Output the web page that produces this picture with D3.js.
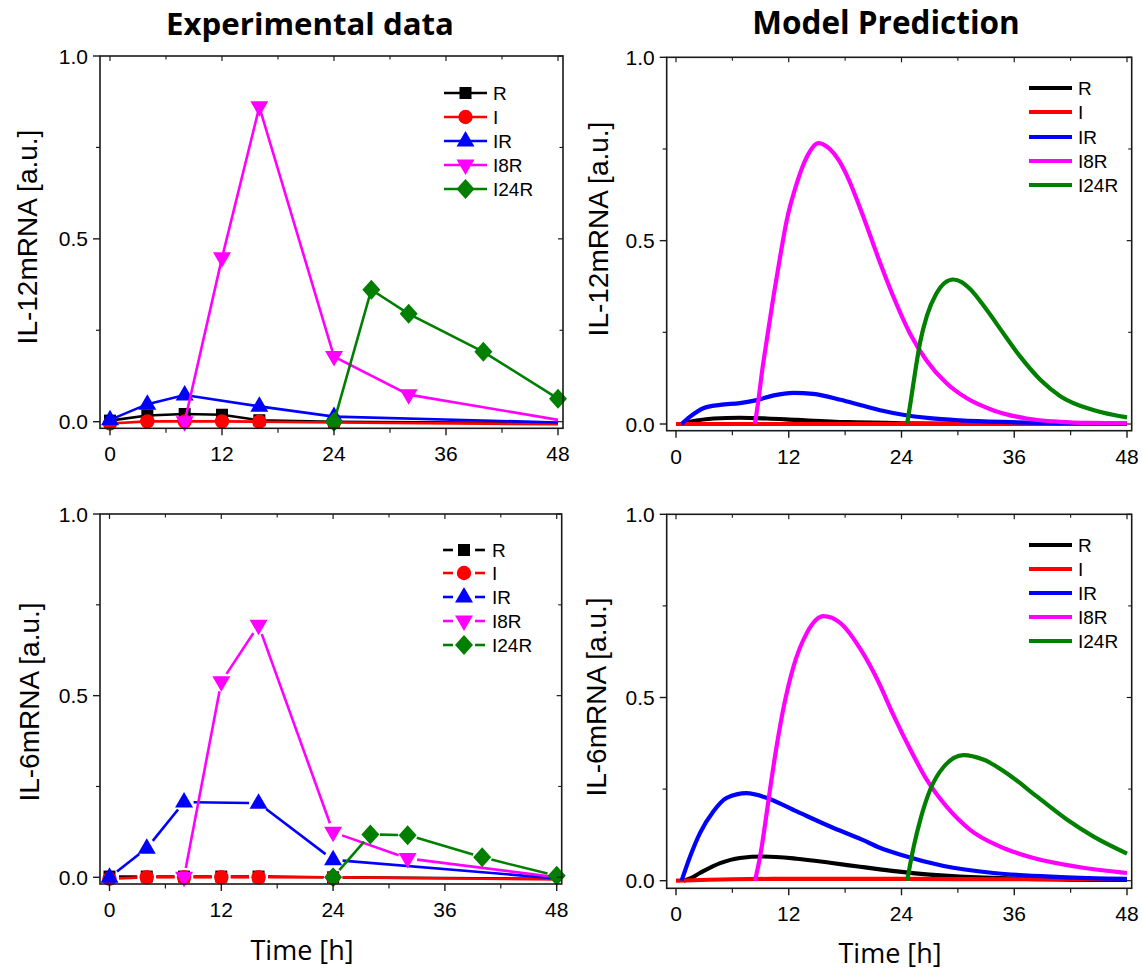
<!DOCTYPE html>
<html><head><meta charset="utf-8">
<script src="https://cdn.jsdelivr.net/npm/d3@7"></script>
<style>body{margin:0;background:#fff}svg{display:block}</style>
</head><body>
<svg id="c" width="1142" height="972"></svg>
<script>
// ---------- DATA ----------
const seriesNames = ["R", "I", "IR", "I8R", "I24R"];
const xTicks = [0, 12, 24, 36, 48];
const xMinorTicks = [6, 18, 30, 42];
const yTicks = [0, 0.5, 1.0];
const yMinorTicks = [0.25, 0.75];
const panelTitles = ["Experimental data", "Model Prediction"];
const yLabels = ["IL-12mRNA [a.u.]", "IL-6mRNA [a.u.]"];
const xLabel = "Time [h]";

// Experimental IL-12 (time h, value)
const il12ExpR   = [[0,0.003],[4,0.017],[8,0.021],[12,0.019],[16,0.004],[24,0.0]];
const il12ExpI   = [[0,-0.005],[4,0.001],[8,0.001],[12,0.001],[16,0.0],[24,-0.002]];
const il12ExpIR  = [[0,0.005],[4,0.048],[8,0.073],[16,0.042],[24,0.014]];
const il12ExpI8R = [[8,0.0],[12,0.448],[16,0.861],[24,0.178],[32,0.074]];
const il12ExpI24R= [[24,0.0],[28,0.361],[32,0.295],[40,0.191],[48,0.063]];
const il12ExpEnd48 = [-0.004, -0.007, -0.002, 0.005, null]; // line end at 48 h (no symbol)

// Experimental IL-6
const il6ExpR   = [[0,0.002],[4,0.002],[8,0.002],[12,0.002],[16,0.002],[24,0.0]];
const il6ExpI   = [[0,-0.004],[4,0.0],[8,0.0],[12,0.0],[16,0.0],[24,0.0]];
const il6ExpIR  = [[0,0.0],[4,0.08],[8,0.207],[16,0.204],[24,0.048]];
const il6ExpI8R = [[8,0.0],[12,0.538],[16,0.694],[24,0.124],[32,0.052]];
const il6ExpI24R= [[24,0.0],[28,0.118],[32,0.116],[40,0.055],[48,0.004]];
const il6ExpEnd48 = [-0.004, -0.006, -0.003, 0.0, null];

// Model IL-12
const il12ModR  = [[0.5,0],[1.5,0.006],[4,0.015],[6.8,0.017],[9.7,0.015],[12.9,0.011],[18.2,0.005],[24,0.002],[36,0.0],[48,0.0]];
const il12ModI  = [[0,0.0],[12,0.0],[24,0.0],[36,0.0],[48,0.0]];
const il12ModIR = [[0.6,0],[1.5,0.02],[2.9,0.043],[4.7,0.052],[6.8,0.057],[8.6,0.065],[10.4,0.078],[12.5,0.085],[14.6,0.082],[17.5,0.066],[19.6,0.052],[22,0.036],[24,0.026],[27,0.016],[30.2,0.01],[35.6,0.005],[42,0.002],[48,0.001]];
const il12ModI8R= [[8.4,0],[8.8,0.07],[9.13,0.138],[9.66,0.229],[10.37,0.347],[11.08,0.456],[11.79,0.556],[12.85,0.656],[13.92,0.728],[15.16,0.766],[16.4,0.749],[17.3,0.72],[18.18,0.678],[19.8,0.575],[21.5,0.455],[23.14,0.347],[24.9,0.247],[26.7,0.172],[28.8,0.111],[30.96,0.07],[33.8,0.037],[37.3,0.015],[40.9,0.006],[44,0.003],[48,0.002]];
const il12ModI24R=[[24.6,0],[25.0,0.065],[25.5,0.15],[26.0,0.225],[26.7,0.295],[27.7,0.355],[28.6,0.385],[29.5,0.394],[30.4,0.387],[31.3,0.368],[33.1,0.31],[34.85,0.247],[36.6,0.185],[38.8,0.12],[40.9,0.076],[44.4,0.038],[48,0.018]];

// Model IL-6
const il6ModR  = [[0.8,0],[1.5,0.006],[2.55,0.021],[4.7,0.048],[6.8,0.062],[9.3,0.066],[12.85,0.06],[16.4,0.049],[19.6,0.038],[21.7,0.031],[24,0.024],[30.2,0.011],[37.3,0.005],[48,0.002]];
const il6ModI  = [[0,0.0],[6,0.004],[12,0.005],[24,0.005],[36,0.004],[48,0.004]];
const il6ModIR = [[0.6,0],[1.5,0.066],[2.55,0.13],[3.97,0.189],[5.4,0.226],[7.5,0.239],[9.66,0.226],[12.85,0.189],[16.4,0.148],[19.8,0.112],[21.7,0.09],[24,0.07],[28.5,0.04],[33.8,0.021],[40.9,0.01],[48,0.005]];
const il6ModI8R= [[8.4,0],[8.95,0.066],[9.5,0.157],[10.0,0.248],[10.7,0.365],[11.4,0.466],[12.5,0.584],[13.9,0.675],[15.7,0.722],[17.5,0.703],[19.8,0.625],[21.5,0.545],[23.14,0.452],[24.9,0.36],[26.7,0.275],[28.8,0.202],[31.3,0.139],[34.5,0.093],[38.05,0.062],[42.7,0.038],[48,0.021]];
const il6ModI24R=[[24.6,0],[25.3,0.093],[26,0.166],[27.05,0.248],[28.5,0.311],[30.6,0.343],[32.7,0.331],[35.6,0.286],[38.4,0.23],[41.6,0.167],[44.4,0.121],[48,0.074]];

// ---------- STYLE / LAYOUT ----------
const colors = ["#000000", "#ff0000", "#0000ff", "#ff00ff", "#007f00"];
const shapes = ["square", "circle", "up", "down", "diamond"];

const panels = [
  {frame:[100,56,563,428.3], x0:110, x48:558, y0:421.7, y1:56, kind:"exp", gap:false,
   data:[il12ExpR,il12ExpI,il12ExpIR,il12ExpI8R,il12ExpI24R], end48:il12ExpEnd48,
   legend:{x1:444,x2:487,tx:493,y:[93,117,141,165,189]}, ylab:{x:28,y:237,t:yLabels[0]}},
  {frame:[666.7,57.3,1131.7,430.7], x0:676, x48:1127, y0:424, y1:57.3, kind:"mod",
   data:[il12ModR,il12ModI,il12ModIR,il12ModI8R,il12ModI24R],
   legend:{x1:1029,x2:1072,tx:1078,y:[88,112,137,161,185]}, ylab:{x:599,y:229,t:yLabels[0]}},
  {frame:[100,514,561.7,884], x0:109.5, x48:556.7, y0:877.3, y1:514, kind:"exp", gap:true,
   data:[il6ExpR,il6ExpI,il6ExpIR,il6ExpI8R,il6ExpI24R], end48:il6ExpEnd48,
   legend:{x1:443,x2:485,tx:492,y:[550,573,597,621,645]}, ylab:{x:30,y:702,t:yLabels[1]}},
  {frame:[666.7,514.3,1131.7,888.3], x0:676, x48:1127, y0:880.7, y1:514.3, kind:"mod",
   data:[il6ModR,il6ModI,il6ModIR,il6ModI8R,il6ModI24R],
   legend:{x1:1029,x2:1072,tx:1078,y:[545,569,593,617,641]}, ylab:{x:597,y:697,t:yLabels[1]}}
];

const svg = d3.select("#c");
const AX = "#1a1a1a";
const tickFont = "Liberation Sans, Arial, sans-serif";

function markerPath(shape) {
  switch (shape) {
    case "square": return "M-6,-6H6V6H-6Z";
    case "circle": return d3.symbol(d3.symbolCircle, Math.PI*7.2*7.2)();
    case "up": return "M0,-10L9,5.5L-9,5.5Z";
    case "down": return "M0,10L9,-5.5L-9,-5.5Z";
    case "diamond": return "M0,-10L9,0L0,10L-9,0Z";
  }
}

panels.forEach(p => {
  const [fl, ft, fr, fb] = p.frame;
  const x = d3.scaleLinear().domain([0, 48]).range([p.x0, p.x48]);
  const y = d3.scaleLinear().domain([0, 1]).range([p.y0, p.y1]);
  const g = svg.append("g");

  // series
  const lw = p.kind === "exp" ? 2.6 : 4.2;
  p.data.forEach((ser, i) => {
    const col = colors[i];
    const pts = ser.map(d => [x(d[0]), y(d[1])]);
    if (p.kind === "mod") {
      g.append("path").attr("d", d3.line().curve(d3.curveMonotoneX)(pts))
        .attr("fill", "none").attr("stroke", col).attr("stroke-width", lw)
        .attr("stroke-linejoin", "round");
    } else {
      const linePts = pts.map(q => ({p:q, m:true}));
      if (p.end48[i] !== null) linePts.push({p:[x(48), y(p.end48[i])], m:false});
      if (!p.gap) {
        g.append("path").attr("d", d3.line()(linePts.map(o => o.p)))
          .attr("fill", "none").attr("stroke", col).attr("stroke-width", lw);
      } else {
        const G = 9.5;
        for (let k = 0; k < linePts.length - 1; k++) {
          const a = linePts[k], b = linePts[k+1];
          const dx = b.p[0]-a.p[0], dy = b.p[1]-a.p[1];
          const L = Math.hypot(dx, dy);
          const s = a.m ? G : 0, e = b.m ? G : 0;
          if (L <= s + e + 1) continue;
          const ux = dx/L, uy = dy/L;
          g.append("line")
            .attr("x1", a.p[0]+ux*s).attr("y1", a.p[1]+uy*s)
            .attr("x2", b.p[0]-ux*e).attr("y2", b.p[1]-uy*e)
            .attr("stroke", col).attr("stroke-width", lw);
        }
      }
      g.selectAll(null).data(ser).enter().append("path")
        .attr("d", markerPath(shapes[i]))
        .attr("transform", d => `translate(${x(d[0])},${y(d[1])})`)
        .attr("fill", col);
    }
  });

  // frame
  g.append("rect").attr("x", fl).attr("y", ft).attr("width", fr-fl).attr("height", fb-ft)
    .attr("fill", "none").attr("stroke", AX).attr("stroke-width", 1.6);

  // ticks
  xTicks.forEach(t => {
    g.append("line").attr("x1", x(t)).attr("x2", x(t)).attr("y1", fb).attr("y2", fb+7).attr("stroke", AX).attr("stroke-width", 1.4);
    g.append("line").attr("x1", x(t)).attr("x2", x(t)).attr("y1", ft).attr("y2", ft+5).attr("stroke", AX).attr("stroke-width", 1.2);
    g.append("text").attr("x", x(t)).attr("y", fb+33).attr("text-anchor", "middle")
      .attr("font-family", tickFont).attr("font-size", 21).attr("fill", "#000").text(t);
  });
  xMinorTicks.forEach(t => {
    g.append("line").attr("x1", x(t)).attr("x2", x(t)).attr("y1", fb).attr("y2", fb+4.5).attr("stroke", AX).attr("stroke-width", 1.2);
    g.append("line").attr("x1", x(t)).attr("x2", x(t)).attr("y1", ft).attr("y2", ft+3.5).attr("stroke", AX).attr("stroke-width", 1.1);
  });
  yTicks.forEach(t => {
    g.append("line").attr("x1", fl-7).attr("x2", fl).attr("y1", y(t)).attr("y2", y(t)).attr("stroke", AX).attr("stroke-width", 1.4);
    g.append("line").attr("x1", fr-5).attr("x2", fr).attr("y1", y(t)).attr("y2", y(t)).attr("stroke", AX).attr("stroke-width", 1.2);
    g.append("text").attr("x", fl-12).attr("y", y(t)+7.5).attr("text-anchor", "end")
      .attr("font-family", tickFont).attr("font-size", 21).attr("fill", "#000").text(d3.format(".1f")(t));
  });
  yMinorTicks.forEach(t => {
    g.append("line").attr("x1", fl-4).attr("x2", fl).attr("y1", y(t)).attr("y2", y(t)).attr("stroke", AX).attr("stroke-width", 1.2);
    g.append("line").attr("x1", fr-3.5).attr("x2", fr).attr("y1", y(t)).attr("y2", y(t)).attr("stroke", AX).attr("stroke-width", 1.1);
  });

  // y label
  g.append("text").attr("transform", `translate(${p.ylab.x + 9},${p.ylab.y}) rotate(-90)`)
    .attr("text-anchor", "middle").attr("font-family", tickFont).attr("font-size", 28)
    .attr("fill", "#000").text(p.ylab.t);

  // legend
  const L = p.legend;
  seriesNames.forEach((nm, i) => {
    const ly = L.y[i], col = colors[i];
    if (p.kind === "mod") {
      g.append("line").attr("x1", L.x1).attr("x2", L.x2).attr("y1", ly).attr("y2", ly)
        .attr("stroke", col).attr("stroke-width", 4.2);
    } else if (!p.gap) {
      g.append("line").attr("x1", L.x1).attr("x2", L.x2).attr("y1", ly).attr("y2", ly)
        .attr("stroke", col).attr("stroke-width", 2.6);
    } else {
      g.append("line").attr("x1", L.x1).attr("x2", L.x1+10).attr("y1", ly).attr("y2", ly).attr("stroke", col).attr("stroke-width", 2.6);
      g.append("line").attr("x1", L.x2-10).attr("x2", L.x2).attr("y1", ly).attr("y2", ly).attr("stroke", col).attr("stroke-width", 2.6);
    }
    if (p.kind === "exp") {
      g.append("path").attr("d", markerPath(shapes[i]))
        .attr("transform", `translate(${(L.x1+L.x2)/2},${ly})`).attr("fill", col);
    }
    g.append("text").attr("x", L.tx).attr("y", ly + 7).attr("font-family", tickFont)
      .attr("font-size", 19).attr("fill", "#000").text(nm);
  });
});

// titles and x labels
const titleFont = "Open Sans, Noto Sans, sans-serif";
svg.append("text").attr("x", 310).attr("y", 35).attr("text-anchor", "middle")
  .attr("font-family", titleFont).attr("font-weight", 700).attr("font-size", 31.2).text(panelTitles[0]);
svg.append("text").attr("x", 886).attr("y", 34).attr("text-anchor", "middle")
  .attr("font-family", titleFont).attr("font-weight", 700).attr("font-size", 31.5).text(panelTitles[1]);
svg.append("text").attr("x", 302).attr("y", 960).attr("text-anchor", "middle")
  .attr("font-family", titleFont).attr("font-size", 27).text(xLabel);
svg.append("text").attr("x", 890).attr("y", 963).attr("text-anchor", "middle")
  .attr("font-family", titleFont).attr("font-size", 27).text(xLabel);
</script>
</body></html>
